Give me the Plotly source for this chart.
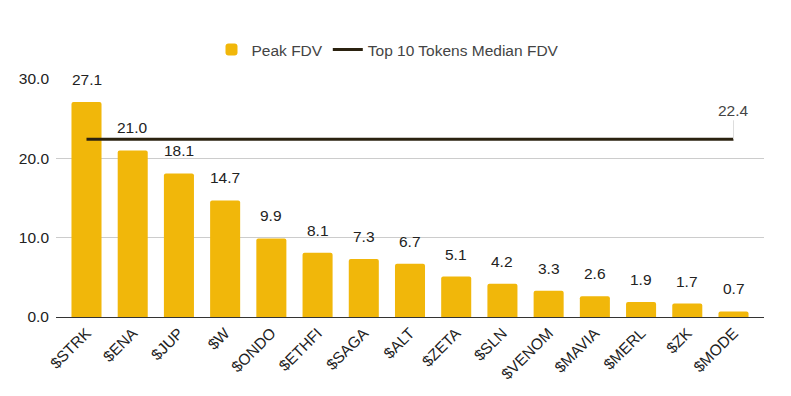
import plotly.graph_objects as go

tokens = ["$STRK", "$ENA", "$JUP", "$W", "$ONDO", "$ETHFI", "$SAGA", "$ALT",
          "$ZETA", "$SLN", "$VENOM", "$MAVIA", "$MERL", "$ZK", "$MODE"]
peak_fdv = [27.1, 21.0, 18.1, 14.7, 9.9, 8.1, 7.3, 6.7, 5.1, 4.2, 3.3, 2.6, 1.9, 1.7, 0.7]
median_fdv = 22.4
y_ticks = [0, 10, 20, 30]

FONT = "Liberation Sans, Arial, sans-serif"
FS = 15.5

fig = go.Figure()
fig.add_trace(go.Bar(
    x=tokens, y=peak_fdv, name="Peak FDV",
    marker=dict(color="#F1B70A", line=dict(width=0), cornerradius=2),
    width=0.65,
))
fig.add_trace(go.Scatter(
    x=[tokens[0], tokens[-1]], y=[median_fdv, median_fdv],
    mode="lines", name="Top 10 Tokens Median FDV",
    line=dict(color="#2B2210", width=3),
))

annotations = []
for t, v in zip(tokens, peak_fdv):
    annotations.append(dict(
        x=t, y=v, text=f"{v:.1f}", showarrow=False,
        yanchor="bottom", yshift=12,
        font=dict(family=FONT, size=FS, color="#222222"),
    ))
annotations.append(dict(
    x=tokens[-1], y=median_fdv, text=f"{median_fdv:.1f}",
    showarrow=True, arrowhead=0, arrowwidth=1, arrowcolor="#DDDDDD",
    ax=0, ay=-29,
    font=dict(family=FONT, size=FS, color="#444444"),
))

fig.update_layout(
    width=791, height=396,
    margin=dict(l=56, r=27, t=79, b=79, autoexpand=False),
    paper_bgcolor="white", plot_bgcolor="white",
    font=dict(family=FONT, size=FS, color="#222222"),
    showlegend=True,
    legend=dict(orientation="h", x=388 / 791, xanchor="center", xref="container",
                y=1 - 50 / 396, yanchor="middle", yref="container",
                font=dict(family=FONT, size=FS, color="#444444"),
                itemwidth=30),
    annotations=annotations,
    xaxis=dict(
        range=[-0.66, 14.66],
        tickangle=-45, showgrid=False, showline=True, linecolor="#333333",
        linewidth=1, tickfont=dict(family=FONT, size=FS, color="#222222"),
        ticks="",
    ),
    yaxis=dict(
        range=[0, 30], tickvals=y_ticks, ticktext=[f"{v:.1f}" for v in y_ticks],
        showgrid=True, gridcolor="#CCCCCC", gridwidth=1, zeroline=False,
        ticks="", ticklabelstandoff=6,
        tickfont=dict(family=FONT, size=FS, color="#222222"),
    ),
)

fig.write_html("out.html", config={"displayModeBar": False},
               post_script="document.body.style.margin='0';")
